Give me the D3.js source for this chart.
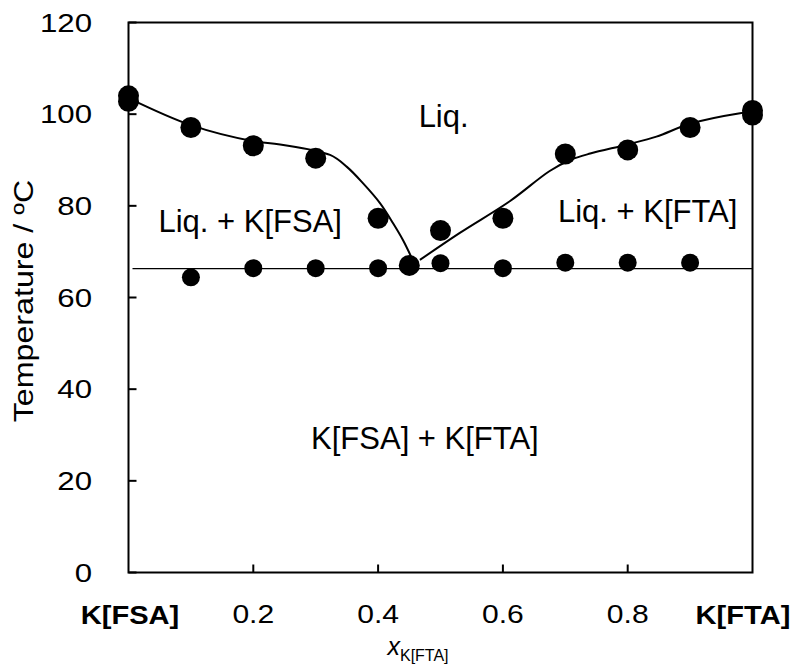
<!DOCTYPE html>
<html>
<head>
<meta charset="utf-8">
<script src="https://cdn.jsdelivr.net/npm/d3@7"></script>
<style>
  body { margin: 0; background: #fff; }
  text { font-family: "Liberation Sans", Arial, sans-serif; }
</style>
</head>
<body>
<svg id="chart" width="795" height="666"></svg>
<script>
// liquidus measurements (big dots)
const liqX = [0, 0, 0.1, 0.2, 0.3, 0.4, 0.45, 0.5, 0.6, 0.7, 0.8, 0.9, 1.0, 1.0];
const liqT = [104, 102.8, 97.1, 93.1, 90.4, 77.3, 67.0, 74.6, 77.3, 91.3, 92.2, 97.1, 100.8, 99.8];
// solidus / eutectic measurements (small dots)
const solX = [0.1, 0.2, 0.3, 0.4, 0.5, 0.6, 0.7, 0.8, 0.9];
const solT = [64.4, 66.4, 66.4, 66.4, 67.5, 66.4, 67.6, 67.6, 67.6];
// fitted liquidus curves
const leftX = [0, 0.1, 0.2, 0.243, 0.323, 0.35, 0.376, 0.403, 0.424, 0.44, 0.454];
const leftT = [103.5, 97.6, 94.1, 93.4, 91.1, 88.5, 84.9, 80.6, 76.2, 72.5, 68.6];
const rightX = [0.467, 0.531, 0.611, 0.675, 0.708, 0.74, 0.8, 0.846, 0.9, 0.98, 1.0];
const rightT = [68.2, 74.1, 81.0, 87.6, 90.0, 91.4, 93.4, 95.1, 97.9, 100.2, 100.5];
const eutecticT = 66.3;
const yTicks = [0, 20, 40, 60, 80, 100, 120];
const xTicks = [0.2, 0.4, 0.6, 0.8];

const svg = d3.select("#chart");
const x = d3.scaleLinear().domain([0, 1]).range([128.5, 752.5]);
const y = d3.scaleLinear().domain([0, 120]).range([572.5, 22.5]);

// frame
svg.append("rect")
    .attr("x", x(0)).attr("y", y(120))
    .attr("width", x(1) - x(0)).attr("height", y(0) - y(120))
    .attr("fill", "none").attr("stroke", "#000").attr("stroke-width", 2);

// ticks (inside)
svg.selectAll(".yt").data(yTicks).enter().append("line")
    .attr("x1", x(0)).attr("x2", x(0) + 8)
    .attr("y1", d => y(d)).attr("y2", d => y(d))
    .attr("stroke", "#000").attr("stroke-width", 2);
svg.selectAll(".xt").data(xTicks).enter().append("line")
    .attr("x1", d => x(d)).attr("x2", d => x(d))
    .attr("y1", y(0)).attr("y2", y(0) - 8)
    .attr("stroke", "#000").attr("stroke-width", 2);

// tick labels (the original font is a bit wide)
svg.selectAll(".yl").data(yTicks).enter().append("text")
    .attr("transform", d => `translate(92,${y(d) + 9}) scale(1.2,1)`)
    .attr("text-anchor", "end").attr("font-size", 26)
    .text(d => d);
svg.selectAll(".xl").data(xTicks).enter().append("text")
    .attr("transform", d => `translate(${x(d)},623) scale(1.18,1)`)
    .attr("text-anchor", "middle").attr("font-size", 25.5)
    .text(d => d);
svg.selectAll(".end").data([["K[FSA]", 0], ["K[FTA]", 1]]).enter().append("text")
    .attr("transform", d => `translate(${d[1] ? 743 : 130},624) scale(1.12,1)`)
    .attr("text-anchor", "middle").attr("font-size", 26).attr("font-weight", "bold")
    .text(d => d[0]);

// axis titles
const xt = svg.append("text").attr("x", 418).attr("y", 655)
    .attr("text-anchor", "middle").attr("font-size", 25);
xt.append("tspan").attr("font-style", "italic").text("x");
xt.append("tspan").attr("font-size", 16).attr("dy", 6).text("K[FTA]");
svg.append("text")
    .attr("transform", "translate(33,301) rotate(-90) scale(1.15,1)")
    .attr("text-anchor", "middle").attr("font-size", 28)
    .text("Temperature / ºC");

// eutectic line
svg.append("line")
    .attr("x1", x(0) + 4).attr("x2", x(1))
    .attr("y1", y(eutecticT)).attr("y2", y(eutecticT))
    .attr("stroke", "#000").attr("stroke-width", 1.2);

// liquidus curves
const line = d3.line().x(d => x(d[0])).y(d => y(d[1])).curve(d3.curveCatmullRom.alpha(0.5));
svg.append("path").datum(d3.zip(leftX, leftT)).attr("d", line)
    .attr("fill", "none").attr("stroke", "#000").attr("stroke-width", 2);
svg.append("path").datum(d3.zip(rightX, rightT)).attr("d", line)
    .attr("fill", "none").attr("stroke", "#000").attr("stroke-width", 2);

// dots
svg.selectAll(".sol").data(d3.zip(solX, solT)).enter().append("circle")
    .attr("cx", d => x(d[0])).attr("cy", d => y(d[1])).attr("r", 9).attr("fill", "#000");
svg.selectAll(".liq").data(d3.zip(liqX, liqT)).enter().append("circle")
    .attr("cx", d => x(d[0])).attr("cy", d => y(d[1])).attr("r", 10.5).attr("fill", "#000");

// region labels
const labels = [
  { t: "Liq.", x: 0.505, y: 97.2 },
  { t: "Liq. + K[FSA]", x: 0.195, y: 74.3 },
  { t: "Liq. + K[FTA]", x: 0.832, y: 76.4 },
  { t: "K[FSA] + K[FTA]", x: 0.475, y: 26.9 }
];
svg.selectAll(".rl").data(labels).enter().append("text")
    .attr("x", d => x(d.x)).attr("y", d => y(d.y))
    .attr("text-anchor", "middle").attr("font-size", 31)
    .text(d => d.t);
</script>
</body>
</html>
